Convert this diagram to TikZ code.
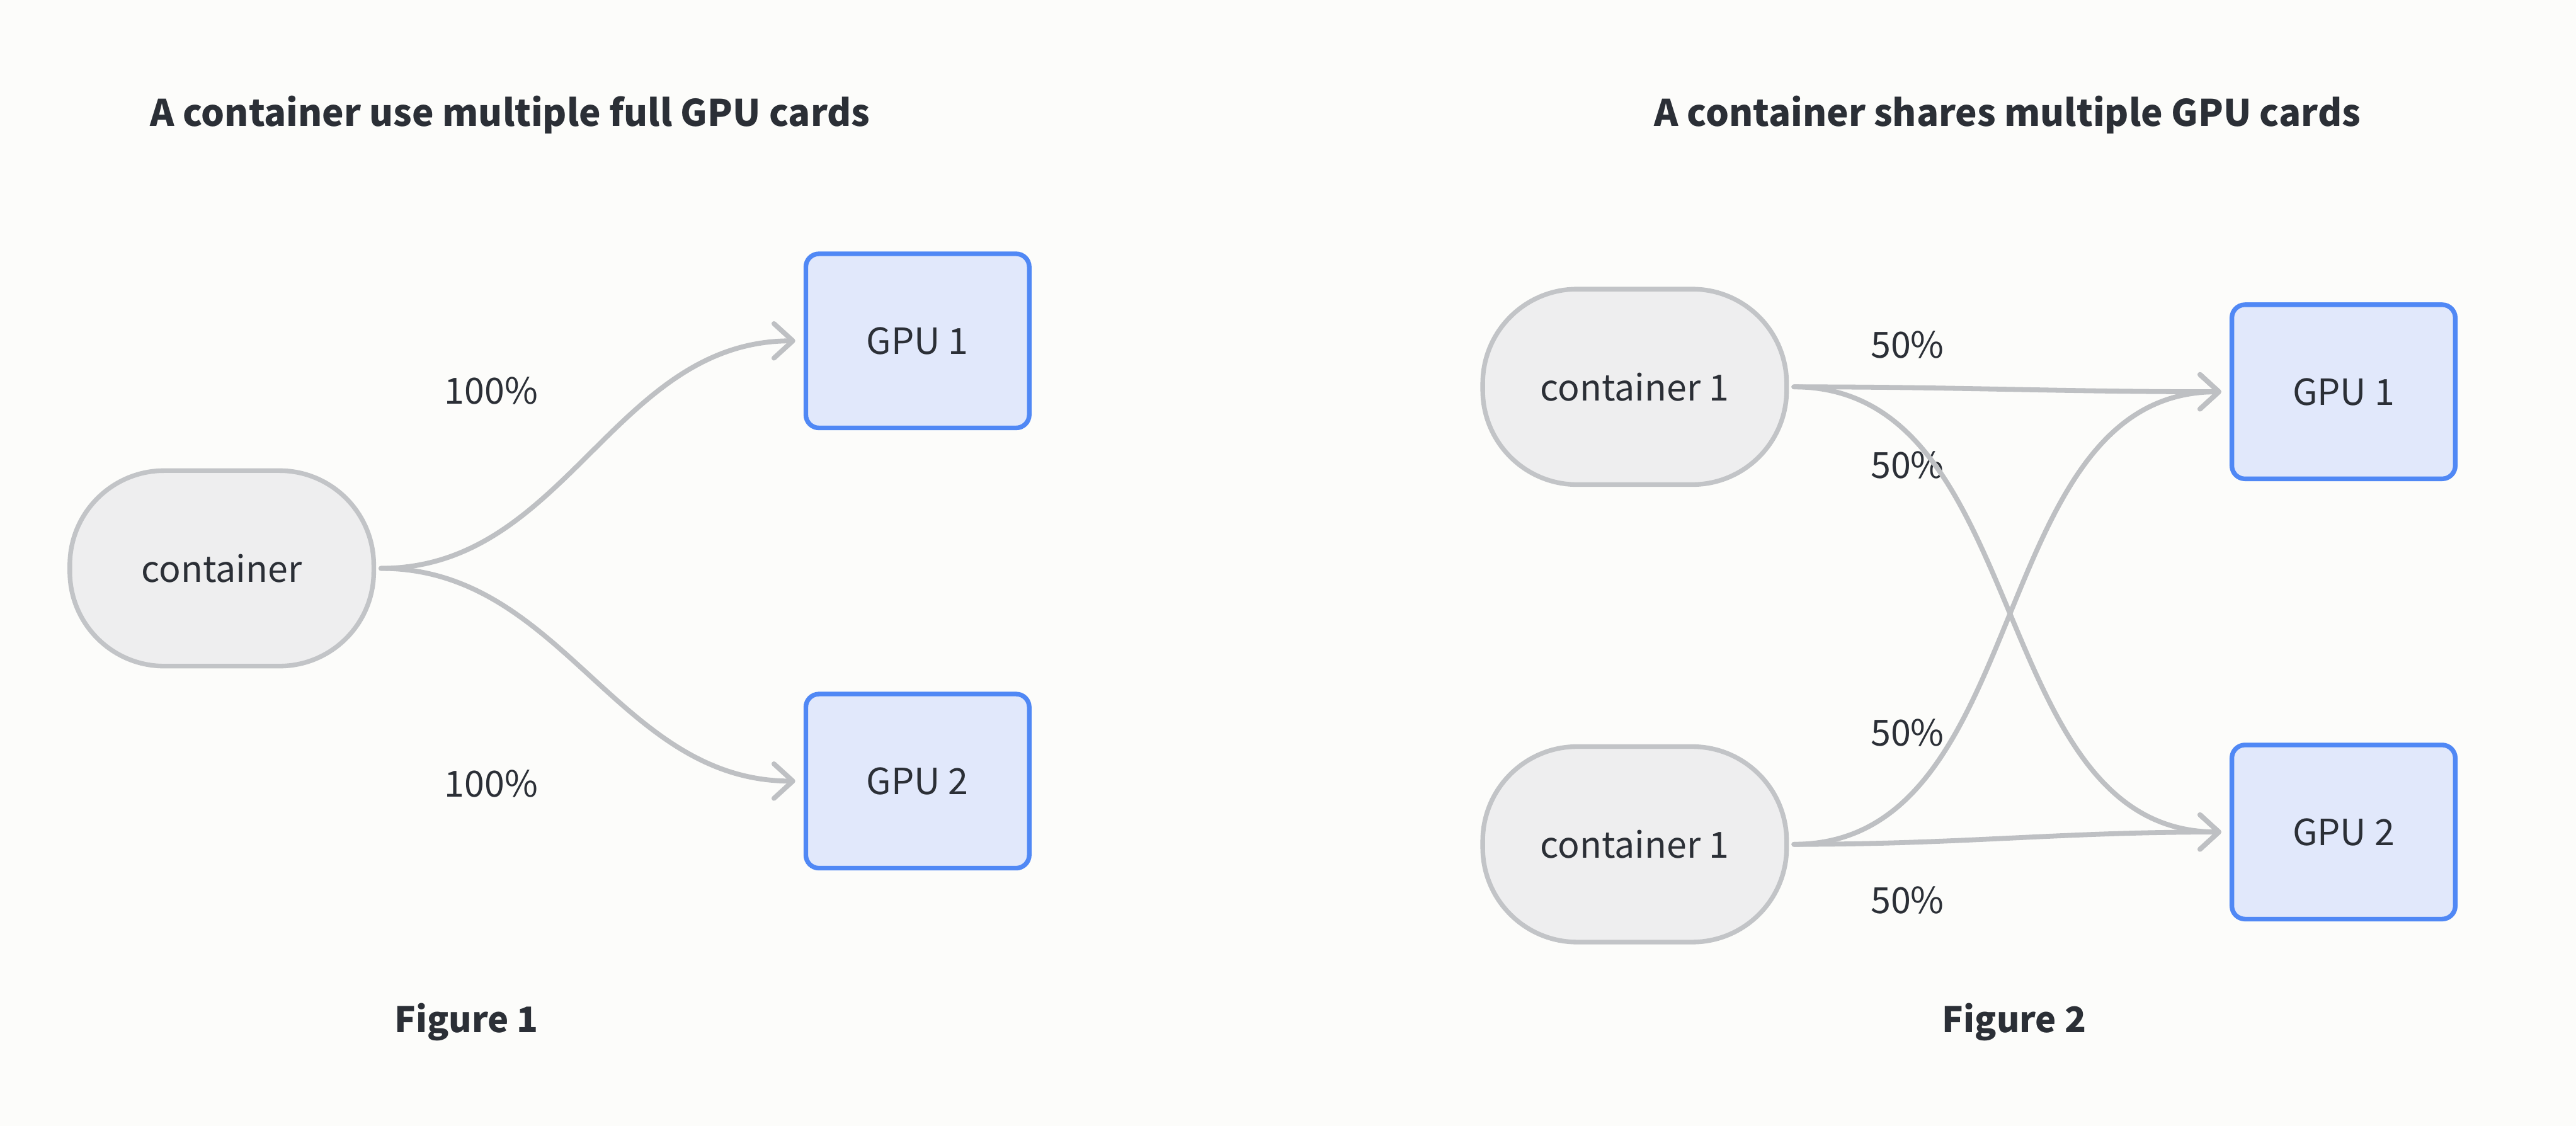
\documentclass[tikz,border=0pt]{standalone}
\usepackage{fontspec}
\setmainfont{Noto Sans CJK SC}
\usetikzlibrary{positioning}
\usetikzlibrary{arrows.meta}
\definecolor{bgpage}{RGB}{252,252,250}
\definecolor{txtdark}{RGB}{43,47,54}
\definecolor{contfill}{RGB}{238,238,239}
\definecolor{contline}{RGB}{194,196,199}
\definecolor{gpufill}{RGB}{225,232,251}
\definecolor{gpuline}{RGB}{80,136,245}
\definecolor{edgegray}{RGB}{190,192,195}
\tikzset{
    contnode/.style = {rectangle, draw=contline, line width=1.6pt, fill=contfill, minimum width=3.7cm, minimum height=2.38cm, rounded corners=1.15cm, text=txtdark, font=\fontsize{12.5}{15}\selectfont},
    gpunode/.style = {rectangle, draw=gpuline, line width=1.6pt, fill=gpufill, minimum width=2.72cm, minimum height=2.12cm, rounded corners=0.16cm, text=txtdark, font=\fontsize{12.5}{15}\selectfont},
    pctlabel/.style = {text=txtdark, font=\fontsize{12.5}{15}\selectfont},
    titlelabel/.style = {text=txtdark, font=\fontsize{12.7}{15}\selectfont\bfseries},
    figlabel/.style = {text=txtdark, font=\fontsize{12.2}{15}\selectfont\bfseries},
    edgeg/.style = {-{Straight Barb[length=0.23cm,width=0.42cm,round]}, line width=1.7pt, draw=edgegray, line cap=round, shorten <=0.06cm, shorten >=0.1cm},
}
\begin{document}
\begin{tikzpicture}
  \fill[bgpage] (0,0) rectangle (31.36,-13.709);
  \useasboundingbox (0,0) rectangle (31.36,-13.709);

  % figure 1
  \node[titlelabel] (title1) at (6.21,-1.40) {A container use multiple full GPU cards};
  \node[contnode] (cont) at (2.70,-6.92) {container};
  \node[gpunode] (gpua) at (11.17,-4.15) {GPU 1};
  \node[gpunode] (gpub) at (11.17,-9.51) {GPU 2};
  \node[pctlabel] (pa) at (5.98,-4.76) {100\%};
  \node[pctlabel] (pb) at (5.98,-9.54) {100\%};
  \node[figlabel] (fig1) at (5.68,-12.44) {Figure 1};
  \draw[edgeg] (cont) to[out=0,in=180] (gpua);
  \draw[edgeg] (cont) to[out=0,in=180] (gpub);

  % figure 2
  \node[titlelabel] (title2) at (24.44,-1.40) {A container shares multiple GPU cards};
  \node[contnode] (conta) at (19.90,-4.71) {container 1};
  \node[contnode] (contb) at (19.90,-10.28) {container 1};
  \node[gpunode] (gpuc) at (28.53,-4.77) {GPU 1};
  \node[gpunode] (gpud) at (28.53,-10.13) {GPU 2};
  \node[pctlabel] (pc) at (23.22,-4.20) {50\%};
  \node[pctlabel] (pd) at (23.22,-5.66) {50\%};
  \node[pctlabel] (pe) at (23.22,-8.92) {50\%};
  \node[pctlabel] (pf) at (23.22,-10.96) {50\%};
  \node[figlabel] (fig2) at (24.52,-12.44) {Figure 2};
  \draw[edgeg] (conta) to[out=0,in=180] (gpuc);
  \draw[edgeg] (conta) to[out=0,in=180] (gpud);
  \draw[edgeg] (contb) to[out=0,in=180] (gpuc);
  \draw[edgeg] (contb) to[out=0,in=180] (gpud);
\end{tikzpicture}
\end{document}
